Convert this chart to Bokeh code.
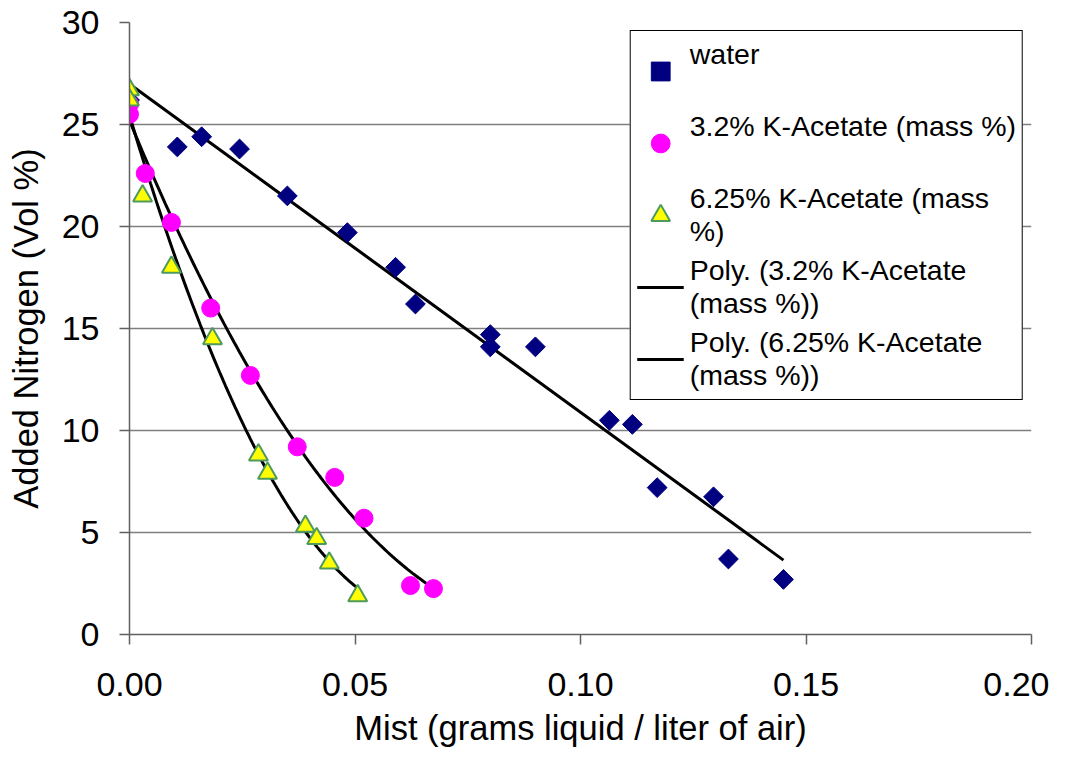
import numpy as np
from bokeh.plotting import figure
from bokeh.models import Range1d, Legend, LegendItem, NumeralTickFormatter, FixedTicker
from bokeh.embed import file_html
from bokeh.resources import INLINE

# ---- data ----
water_x = [0.0, 0.0106, 0.016, 0.0244, 0.035, 0.0483, 0.059, 0.0634, 0.080, 0.080,
           0.090, 0.1064, 0.1115, 0.117, 0.1295, 0.1328, 0.145]
water_y = [26.2, 23.9, 24.4, 23.8, 21.5, 19.7, 18.0, 16.2, 14.7, 14.1,
           14.1, 10.5, 10.3, 7.2, 6.75, 3.7, 2.7]
ka32_x = [0.0, 0.0, 0.0035, 0.0093, 0.018, 0.0268, 0.0372, 0.0455, 0.052, 0.0623, 0.0674]
ka32_y = [26.0, 25.5, 22.6, 20.2, 16.0, 12.7, 9.2, 7.7, 5.7, 2.4, 2.25]
ka625_x = [0.0, 0.0, 0.0029, 0.0093, 0.0184, 0.0286, 0.0306, 0.039, 0.0415, 0.0443, 0.0506]
ka625_y = [26.7, 26.2, 21.5, 18.0, 14.5, 8.8, 7.9, 5.3, 4.7, 3.5, 1.9]

x_ticks = [0.0, 0.05, 0.10, 0.15, 0.20]
y_ticks = [0, 5, 10, 15, 20, 25, 30]

# single-line entries get an empty second line so that, as in the reference,
# every legend entry is two lines tall with its text starting on the first line
labels = ["water\n\u00a0", "3.2% K-Acetate (mass %)\n\u00a0", "6.25% K-Acetate (mass\n%)",
          "Poly. (3.2% K-Acetate\n(mass %))", "Poly. (6.25% K-Acetate\n(mass %))"]
x_title = "Mist (grams liquid / liter of air)"
y_title = "Added Nitrogen (Vol %)"

FONT = "Liberation Sans"

# trend lines: linear for water, 2nd-order polynomial for the K-Acetate series
def fit(xs, ys, deg):
    c = np.polyfit(xs, ys, deg)
    xx = np.linspace(min(xs), max(xs), 120)
    return xx, np.polyval(c, xx)

wl_x, wl_y = fit(water_x, water_y, 1)
p32_x, p32_y = fit(ka32_x, ka32_y, 2)
p625_x, p625_y = fit(ka625_x, ka625_y, 2)

W, H = 1049, 749
p = figure(width=W, height=H, x_range=Range1d(0, 0.2), y_range=Range1d(0, 30),
           output_backend="svg", toolbar_location=None,
           min_border_left=129, min_border_right=W - 1031,
           min_border_top=22, min_border_bottom=H - 635)
p.outline_line_color = None
p.background_fill_color = "white"
p.border_fill_color = "white"
p.xgrid.visible = False
p.ygrid.grid_line_color = "#7f7f7f"
p.ygrid.grid_line_width = 1.5

for ax in (p.xaxis[0], p.yaxis[0]):
    ax.axis_line_color = "#606060"
    ax.axis_line_width = 1.5
    ax.major_tick_line_color = "#606060"
    ax.major_tick_line_width = 1.5
    ax.major_tick_out = 10
    ax.major_tick_in = 0
    ax.minor_tick_line_color = None
    ax.major_label_text_font = FONT
    ax.major_label_text_font_size = "34px"
    ax.major_label_text_color = "black"
    ax.axis_label_text_font = FONT
    ax.axis_label_text_font_size = "34.5px"
    ax.axis_label_text_font_style = "normal"
    ax.axis_label_text_color = "black"

p.xaxis.ticker = FixedTicker(ticks=x_ticks)
p.yaxis.ticker = FixedTicker(ticks=y_ticks)
p.xaxis.formatter = NumeralTickFormatter(format="0.00")
p.xaxis.axis_label = x_title
p.yaxis.axis_label = y_title
p.xaxis.major_label_standoff = 28
p.xaxis.axis_label_standoff = 10
p.yaxis.major_label_standoff = 20
p.yaxis.axis_label_standoff = 14

# trend lines
p.line(wl_x, wl_y, line_color="black", line_width=3)
l32 = p.line(p32_x, p32_y, line_color="black", line_width=3)
l625 = p.line(p625_x, p625_y, line_color="black", line_width=3)

# markers
rw = p.scatter(water_x, water_y, marker="square", angle=np.pi / 4, size=14,
               fill_color="#000080", line_color="#000080")
r32 = p.scatter(ka32_x, ka32_y, marker="circle", size=18,
                fill_color="#FF00FF", line_color="#FF00FF")
r625 = p.scatter(ka625_x, ka625_y, marker="triangle", size=19,
                 fill_color="#FFFF00", line_color="#4E9A5E", line_width=2)

legend = Legend(items=[LegendItem(label=labels[0], renderers=[rw]),
                       LegendItem(label=labels[1], renderers=[r32]),
                       LegendItem(label=labels[2], renderers=[r625]),
                       LegendItem(label=labels[3], renderers=[l32]),
                       LegendItem(label=labels[4], renderers=[l625])],
                location="top_right", margin=8, padding=6, spacing=4,
                glyph_width=47, glyph_height=50, label_standoff=6,
                label_text_font=FONT, label_text_font_size="28.5px",
                label_text_color="black", label_height=68,
                border_line_color="black", border_line_width=1.5, border_line_alpha=1.0,
                background_fill_color="white", background_fill_alpha=1.0)
p.add_layout(legend)

open("out.html", "w").write(file_html(p, INLINE))
